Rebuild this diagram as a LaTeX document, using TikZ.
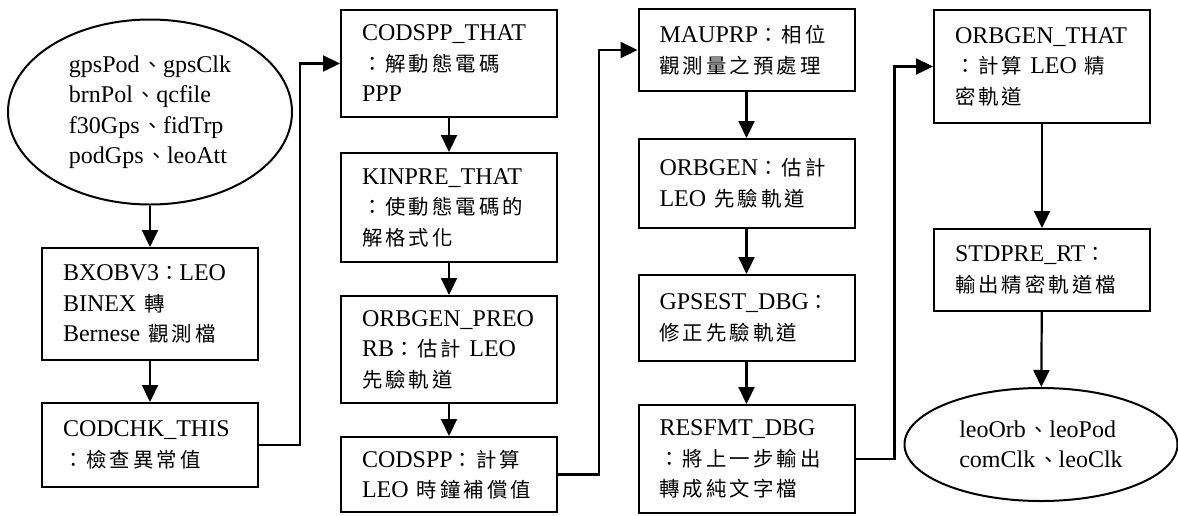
\documentclass[tikz,border=0pt]{standalone}
\usepackage{fontspec}
\setmainfont{Liberation Serif}
\newfontfamily\cjk[Scale=0.85,LetterSpace=15]{Noto Sans CJK TC}
\newcommand{\zh}[1]{{\cjk #1}}
\newcommand{\dun}{\kern3pt\zh{、}}
\usetikzlibrary{shapes.geometric, arrows.meta}

\begin{document}
\begin{tikzpicture}[x=1pt, y=-1pt, font=\fontsize{24}{30.5}\selectfont,
    proc/.style={rectangle, draw, line width=2pt, minimum width=216pt, text width=174pt, align=left, inner sep=0pt},
    datafile/.style={ellipse, draw, line width=2pt, inner sep=0pt, align=left},
    flow/.style={-{Triangle[length=17pt,width=16pt]}, line width=2.2pt}]
    \useasboundingbox (0,0) rectangle (1178,515);

    % first column: input files and conversion
    \node[datafile, minimum width=284pt, minimum height=185pt] (src) at (150,112) {gpsPod\dun gpsClk\\brnPol\dun qcfile\\f30Gps\dun fidTrp\\podGps\dun leoAtt};
    \node[proc, minimum height=112pt] (bxobv) at (150,304) {BXOBV3\zh{：}LEO\\BINEX \zh{轉}\\Bernese \zh{觀測檔}};
    \node[proc, minimum height=84pt] (codchk) at (150,445) {CODCHK\_THIS\\\zh{：檢查異常值}};

    % second column
    \node[proc, minimum height=107pt] (codsppt) at (449,63.5) {CODSPP\_THAT\\\zh{：解動態電碼}\\PPP};
    \node[proc, minimum height=109pt] (kinpre) at (449,207.5) {KINPRE\_THAT\\\zh{：使動態電碼的}\\\zh{解格式化}};
    \node[proc, minimum height=107pt] (preorb) at (449,349.5) {ORBGEN\_PREO\\RB\zh{：估計} LEO\\\zh{先驗軌道}};
    \node[proc, minimum height=75pt] (codspp) at (449,474.5) {CODSPP\zh{：計算}\\LEO \zh{時鐘補償值}};

    % third column
    \node[proc, minimum height=82pt] (mauprp) at (746.5,50) {MAUPRP\zh{：相位}\\\zh{觀測量之預處理}};
    \node[proc, minimum height=89pt] (orbgen) at (746.5,183.5) {ORBGEN\zh{：估計}\\LEO \zh{先驗軌道}};
    \node[proc, minimum height=86pt] (gpsest) at (746.5,318) {GPSEST\_DBG\zh{：}\\\zh{修正先驗軌道}};
    \node[proc, minimum height=108pt] (resfmt) at (746.5,459) {RESFMT\_DBG\\\zh{：將上一步輸出}\\\zh{轉成純文字檔}};

    % fourth column: precise orbit and output files
    \node[proc, minimum height=113pt] (orbthat) at (1042,66.5) {ORBGEN\_THAT\\\zh{：計算} LEO \zh{精}\\\zh{密軌道}};
    \node[proc, minimum height=82pt] (stdpre) at (1042,270) {STDPRE\_RT\zh{：}\\\zh{輸出精密軌道檔}};
    \node[datafile, minimum width=273pt, minimum height=113pt] (result) at (1041,444.5) {leoOrb\dun leoPod\\comClk\dun leoClk};

    \draw[flow] (src) -- (bxobv);
    \draw[flow] (bxobv) -- (codchk);
    \draw[flow] (codchk.east) -- ++(41,0) |- (codsppt.west);
    \draw[flow] (codsppt) -- (kinpre);
    \draw[flow] (kinpre) -- (preorb);
    \draw[flow] (preorb) -- (codspp);
    \draw[flow] (codspp.east) -- ++(41,0) |- (mauprp.west);
    \draw[flow] (mauprp) -- (orbgen);
    \draw[flow] (orbgen) -- (gpsest);
    \draw[flow] (gpsest) -- (resfmt);
    \draw[flow] (resfmt.east) -- ++(39,0) |- (orbthat.west);
    \draw[flow] (orbthat) -- (stdpre);
    \draw[flow] (stdpre) -- (result);
\end{tikzpicture}
\end{document}
